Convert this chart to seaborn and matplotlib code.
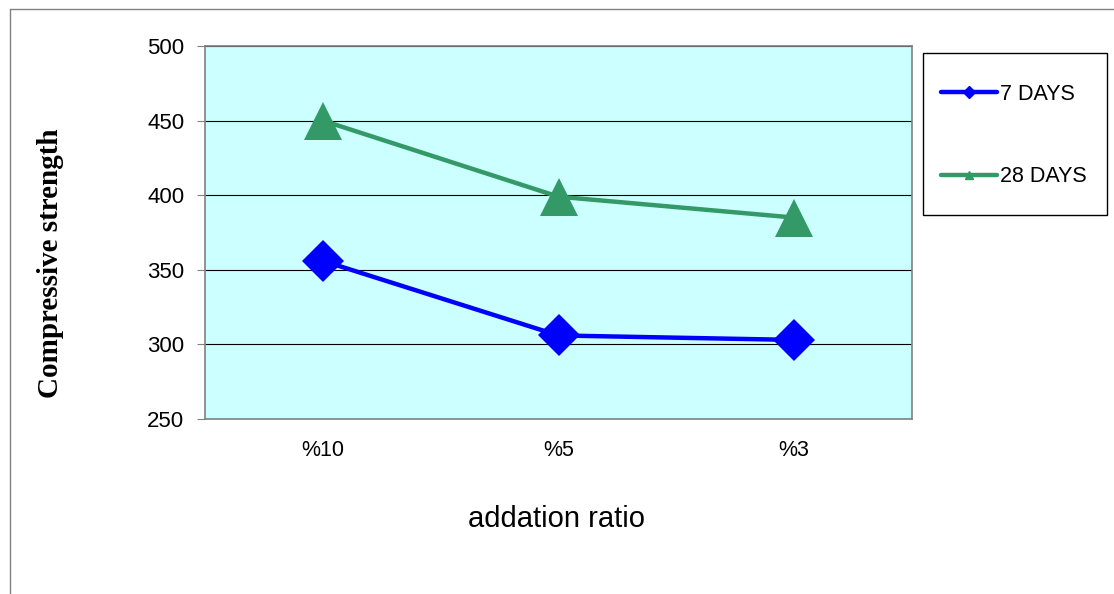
import pandas as pd
import seaborn as sns
import matplotlib.pyplot as plt
from matplotlib.lines import Line2D
from matplotlib.patches import Rectangle

# data
ratios = ["%10", "%5", "%3"]
days7 = [356, 306, 303]
days28 = [450, 399, 385]

df = pd.DataFrame({
    "ratio": ratios * 2,
    "strength": days7 + days28,
    "series": ["7 DAYS"] * 3 + ["28 DAYS"] * 3,
})

sns.set_style("white")
plt.rcParams["font.family"] = ["Liberation Sans", "DejaVu Sans"]
plt.rcParams["text.color"] = "black"
plt.rcParams["xtick.color"] = "black"
plt.rcParams["ytick.color"] = "black"

fig = plt.figure(figsize=(11.14, 5.94), dpi=100)
ax = fig.add_axes([205 / 1114, 1 - 419 / 594, (912 - 205) / 1114, (419 - 46) / 594])
ax.set_facecolor("#CCFFFF")

colors = {"7 DAYS": "#0000FF", "28 DAYS": "#339966"}
marks = {"7 DAYS": "D", "28 DAYS": "^"}
msize = {"7 DAYS": 21, "28 DAYS": 27}

for name in ["7 DAYS", "28 DAYS"]:
    sub = df[df["series"] == name]
    sns.lineplot(data=sub, x="ratio", y="strength", ax=ax, color=colors[name],
                 marker=marks[name], markersize=msize[name], markeredgewidth=0,
                 linewidth=3.2, sort=False, zorder=3)

ax.set_xlim(-0.5, 2.5)
ax.set_ylim(250, 500)
ax.set_yticks(range(250, 501, 50))
ax.yaxis.grid(True, color="black", linewidth=0.8)
ax.set_axisbelow(True)
ax.set_xticks(range(len(ratios)))
ax.set_xticklabels(ratios)
ax.set_xticks([-0.5, 0.5, 1.5, 2.5], minor=True)
ax.tick_params(axis="x", which="major", length=0, labelsize=15.5, pad=15)
ax.tick_params(axis="x", which="minor", length=6, color="#808080", direction="out")
ax.tick_params(axis="y", length=6, color="#808080", labelcolor="black", direction="out",
               labelsize=16, left=True, pad=9)
for s in ax.spines.values():
    s.set_color("#808080")
    s.set_linewidth(1.2)

ax.set_xlabel("")
ax.set_ylabel("")
fig.text(556 / 1114, 1 - 519 / 594, "addation ratio", ha="center", va="center", fontsize=21)
fig.text(51 / 1114, 1 - 263 / 594, "Compressive strength", ha="center", va="center",
         rotation=90, fontsize=21, fontweight="bold", family=["Liberation Serif", "DejaVu Serif"])

# outer chart border
fig.add_artist(Line2D([10 / 1114, 10 / 1114], [0, 1 - 9 / 594], transform=fig.transFigure,
                      color="#808080", linewidth=1))
fig.add_artist(Line2D([10 / 1114, 1], [1 - 9 / 594, 1 - 9 / 594], transform=fig.transFigure,
                      color="#808080", linewidth=1))

# legend box
fig.add_artist(Rectangle((923 / 1114, 1 - 215 / 594), 184 / 1114, 162 / 594,
                         transform=fig.transFigure, facecolor="white", edgecolor="black",
                         linewidth=1))
handles = [Line2D([], [], color=colors[n], marker=marks[n], markersize=6, linewidth=3.2)
           for n in ["7 DAYS", "28 DAYS"]]
fig.legend(handles, ["7 DAYS", "28 DAYS"], loc="upper left",
           bbox_to_anchor=(941 / 1114, 1 - 84 / 594), frameon=False, fontsize=15.5,
           handlelength=2.6, handletextpad=0.15, labelspacing=2.85,
           borderpad=0, borderaxespad=0)

fig.savefig("out.png", dpi=100)
